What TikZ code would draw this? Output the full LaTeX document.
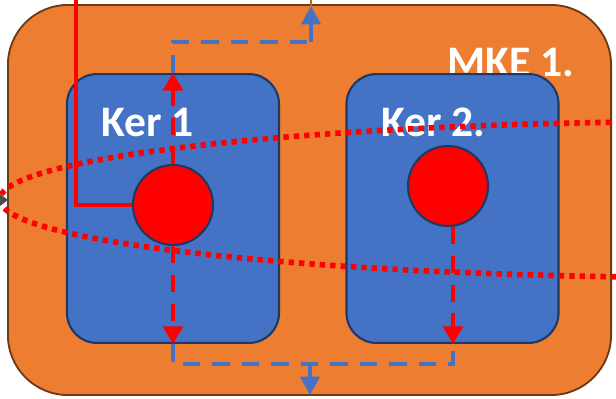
\documentclass[tikz,border=0pt]{standalone}
\usepackage{fontspec}
\setmainfont{Carlito}
\usetikzlibrary{arrows.meta}
\definecolor{mkeorange}{HTML}{ED7D31}
\definecolor{mkeborder}{HTML}{6B3A14}
\definecolor{kerblue}{HTML}{4472C4}
\definecolor{kerborder}{HTML}{1F3864}
\tikzset{
  outerbox/.style={draw=mkeborder, line width=1.3pt, fill=mkeorange, rounded corners=1.5cm, inner sep=0pt},
  kerbox/.style={draw=kerborder, line width=1.5pt, fill=kerblue, rounded corners=0.75cm, inner sep=0pt, minimum width=5.3cm, minimum height=6.72cm},
  core/.style={circle, draw=kerborder, line width=1.5pt, fill=red, minimum size=2cm, inner sep=0pt},
  label/.style={text=white, font=\bfseries\fontsize{31}{37}\selectfont, inner sep=0pt, anchor=base west},
  redflow/.style={draw=red, line width=2.7pt, dash pattern=on 12pt off 8.5pt, -{Triangle[width=14pt,length=12.5pt]}},
  blueflow/.style={draw=kerblue, line width=2.7pt, dash pattern=on 12.5pt off 8.5pt},
  bluearrow/.style={blueflow, -{Triangle[width=13.5pt,length=13pt]}},
  ring/.style={draw=red, line width=4pt, dash pattern=on 3.8pt off 3.6pt}
}
\begin{document}
\begin{tikzpicture}[x=0.025cm, y=-0.025cm]
\useasboundingbox (0,0) rectangle (616,399);
\clip (0,0) rectangle (616,399);
% outer box
\node[outerbox, minimum width=15.075cm, minimum height=9.75cm] (mke) at (309.5,200) {};
\node[label] (mketext) at (447,77) {MKE 1.};
% inner boxes
\node[kerbox] (k1) at (173,208.5) {};
\node[kerbox] (k2) at (452.5,208.5) {};
\node[label] (k1text) at (101,137) {Ker 1};
\node[label] (k2text) at (381,137) {Ker 2.};
% coordinates
\coordinate (top1) at (173,0);
\coordinate (feed) at (76,0);
\coordinate (upturn) at (173,42);
\coordinate (upright) at (311,42);
\coordinate (outtop) at (311,6);
\coordinate (outtopedge) at (311,0);
\coordinate (bl) at (173,364);
\coordinate (br) at (453,364);
\coordinate (outbot) at (310,364);
\coordinate (outbotend) at (310,395);
% blue dashed flows
\draw[blueflow] (k1.north -| top1) -- (upturn) -- (upright);
\draw[bluearrow] (upright) -- (outtop);
\draw[mkeorange!80!black, line width=1.2pt] (outtop) -- (outtopedge);
\draw[blueflow] (k1.south -| bl) -- (bl) -- (br) -- (k2.south -| br);
\draw[bluearrow] (outbot) -- (outbotend);
% cores
\node[core] (c1) at (173,205) {};
\node[core] (c2) at (448,186) {};
% red feed line
\draw[red, line width=2.9pt] (feed) |- (c1.west);
% red dashed arrows
\draw[redflow] (c1.north) -- (k1.north -| c1.north);
\draw[redflow] (c1.south) -- (k1.south -| c1.south);
\coordinate (c2out) at (453,227);
\draw[redflow] (c2out) -- (k2.south -| c2out);
% dotted ring
\draw[ring] (715,199.5) ellipse [x radius=17.875cm, y radius=1.95cm];
% small grey arrowhead at the left edge
\fill[black!70] (0,194) -- (8,200) -- (0,206) -- cycle;
\end{tikzpicture}
\end{document}
